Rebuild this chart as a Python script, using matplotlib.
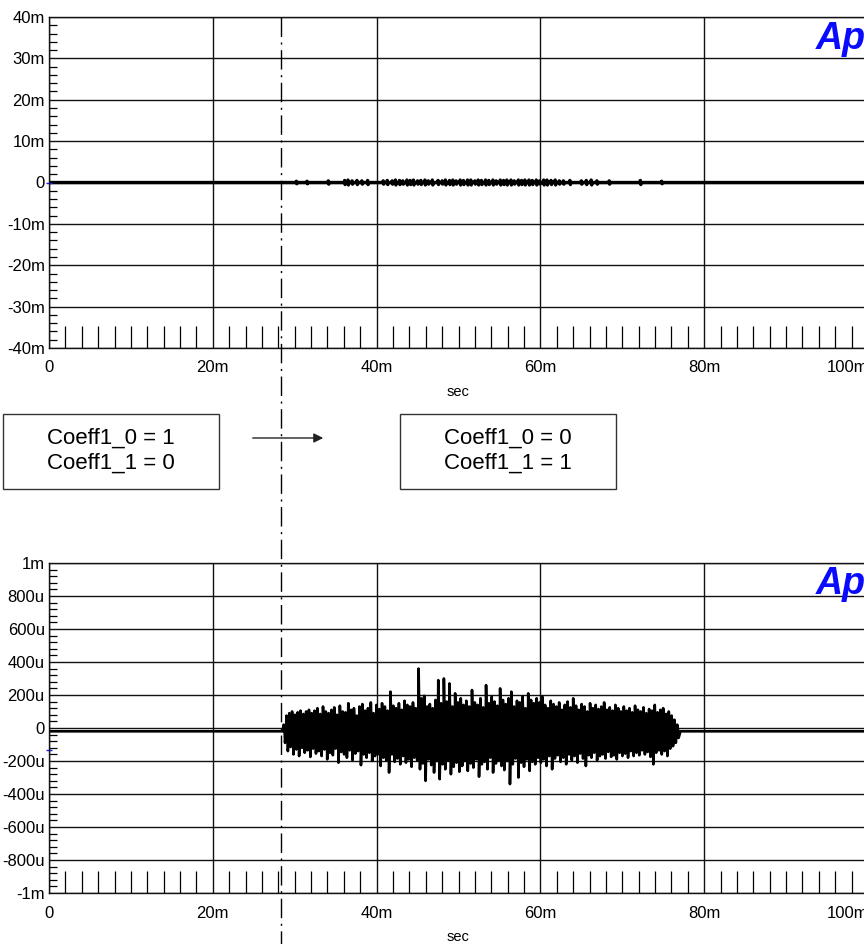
import matplotlib
matplotlib.use("Agg")
import matplotlib.pyplot as plt
from matplotlib.lines import Line2D
from matplotlib.patches import Rectangle, FancyArrowPatch
from matplotlib.ticker import MultipleLocator, FixedLocator

plt.rcParams['font.family'] = ['Liberation Sans', 'DejaVu Sans']

# ---- dados (tempo em ms, amplitude em mV / uV) ----
t_inicio = 28.6      # inicio do burst no grafico de baixo (ms)
t_fim = 77.0
t_troca = 28.3       # instante da troca de coeficientes (ms)
base_baixo = -20     # nivel DC do grafico de baixo (uV)

picos_sup = [40, 95, 110, 120, 100, 115, 125, 105, 120, 130, 110, 125, 140,
             105, 150, 120, 110, 130, 145, 100, 155, 120, 115, 170, 130, 140, 95, 150, 165, 125, 140, 175, 110, 160,
             135, 170, 150, 125, 240, 155, 140, 170, 130, 185, 160, 150, 175, 140,
             380, 200, 215, 150, 165, 140, 190, 310, 170, 320, 180, 290, 150, 230, 175,
             200, 160, 185, 150, 250, 175, 160, 200, 145, 280, 170, 210, 180, 155, 260, 190, 165, 200, 240, 150,
             185, 175, 210, 140, 230, 190, 170, 200,
             175, 210, 160, 140, 185, 165, 150, 175, 130, 160, 180, 145, 200, 155, 130, 165, 150, 120, 170, 140,
             160, 135, 150, 175, 130, 145, 125, 160, 140, 120,
             150, 125, 140, 115, 155, 130, 120, 145, 110, 135, 125, 160, 115, 130, 140, 105, 120, 95, 70, 40]

picos_inf = [-70, -120, -95, -140, -110, -150, -100, -130, -115, -155, -105, -135, -120,
             -150, -110, -170, -130, -145, -105, -190, -125, -140, -160, -115, -175, -135, -120, -205, -140, -160,
             -130, -180, -150, -140,
             -210, -160, -175, -250, -140, -185, -165, -200, -150, -190, -170, -215, -160, -175,
             -230, -195, -300, -170, -205, -250, -180, -290, -200, -230, -175, -260, -215, -190, -245,
             -210, -180, -240, -195, -220, -170, -275, -200, -185, -230, -160, -250, -195, -175, -210, -235, -180,
             -320, -200, -165, -280, -190, -215, -170, -240, -185, -200, -160,
             -190, -170, -210, -150, -230, -165, -145, -185, -160, -200, -140, -175, -150, -190, -135, -165, -210,
             -145, -160, -130, -175, -150, -140, -165, -125, -155, -145, -170, -130, -150,
             -135, -160, -120, -150, -130, -145, -115, -140, -125, -155, -200, -130, -115, -140, -120, -150, -105,
             -90, -70, -40]

# pequenos residuos no grafico de cima (ms, mV)
blip_t = [30.2, 31.5, 34.1, 36.1, 36.5, 37.0, 37.6, 38.2, 38.9,
          40.8, 41.3, 41.9, 42.3, 42.8, 43.2, 43.7, 44.1, 44.5, 45.0, 45.4, 45.9, 46.3, 46.8, 47.5, 48.0,
          48.4, 48.9, 49.3, 49.7, 50.2, 50.6, 51.1, 51.5, 52.0, 52.4, 52.8, 53.3, 53.7, 54.2, 54.6, 55.1,
          55.5, 55.9, 56.4, 56.8, 57.3, 57.7, 58.1, 58.6, 59.0, 59.5, 59.9, 60.4, 60.8, 61.3, 61.8, 62.3,
          62.8, 63.6, 65.0, 65.6, 66.2, 66.9, 68.4, 72.2, 74.8]
blip_a = [0.3, 0.3, 0.4, 0.5, 0.6, 0.4, 0.5, 0.4, 0.5,
          0.4, 0.5, 0.4, 0.6, 0.5, 0.4, 0.6, 0.5, 0.6, 0.4, 0.5, 0.6, 0.4, 0.6, 0.5, 0.4,
          0.6, 0.5, 0.6, 0.4, 0.6, 0.5, 0.6, 0.6, 0.4, 0.6, 0.5, 0.6, 0.5, 0.6, 0.4, 0.6,
          0.5, 0.6, 0.6, 0.4, 0.6, 0.5, 0.6, 0.6, 0.5, 0.6, 0.4, 0.6, 0.6, 0.5, 0.6, 0.4,
          0.4, 0.5, 0.4, 0.5, 0.6, 0.4, 0.4, 0.5, 0.3]

x_ticks = [0, 20, 40, 60, 80, 100]
x_labels = ["0", "20m", "40m", "60m", "80m", "100m"]
y1_ticks = [-40, -30, -20, -10, 0, 10, 20, 30, 40]
y1_labels = ["-40m", "-30m", "-20m", "-10m", "0", "10m", "20m", "30m", "40m"]
y2_ticks = [-1000, -800, -600, -400, -200, 0, 200, 400, 600, 800, 1000]
y2_labels = ["-1m", "-800u", "-600u", "-400u", "-200u", "0", "200u", "400u", "600u", "800u", "1m"]

W, H = 864, 944
fig = plt.figure(figsize=(W / 100, H / 100), dpi=100)


def px_ax(x0, y_top, x1, y_bot):
    return fig.add_axes([x0 / W, 1 - y_bot / H, (x1 - x0) / W, (y_bot - y_top) / H])


ax1 = px_ax(49, 17, 868, 348)
ax2 = px_ax(49, 563, 868, 893)


def estilo(ax, yticks, ylabels, ylim, ymenor):
    ax.set_xlim(0, 100)
    ax.set_ylim(*ylim)
    ax.xaxis.set_major_locator(FixedLocator(x_ticks))
    ax.set_xticklabels(x_labels)
    ax.get_xticklabels()[-1].set_horizontalalignment('right')
    ax.xaxis.set_minor_locator(MultipleLocator(2))
    ax.yaxis.set_major_locator(FixedLocator(yticks))
    ax.set_yticklabels(ylabels)
    ax.yaxis.set_minor_locator(MultipleLocator(ymenor))
    ax.tick_params(axis='both', which='major', length=0, labelsize=12, colors='black')
    ax.tick_params(axis='x', which='major', pad=9)
    ax.tick_params(axis='y', which='major', pad=3)
    ax.tick_params(axis='x', which='minor', direction='in', length=16, width=0.9, top=False)
    ax.tick_params(axis='y', which='minor', direction='in', length=6, width=0.9, right=False)
    ax.grid(True, which='major', color='#111111', linewidth=1.0)
    for s in ax.spines.values():
        s.set_linewidth(1.0)
        s.set_color('#111111')
    ax.set_xlabel("sec", fontsize=10.5, labelpad=7)
    ax.set_axisbelow(True)


estilo(ax1, y1_ticks, y1_labels, (-40, 40), 2)
estilo(ax2, y2_ticks, y2_labels, (-1000, 1000), 40)

# ---- grafico de cima ----
xs, ys = [0.0], [0.0]
for t, a in zip(blip_t, blip_a):
    xs += [t - 0.06, t, t + 0.06, t + 0.12]
    ys += [0.0, a, -a, 0.0]
xs.append(100.0)
ys.append(0.0)
ax1.plot(xs, ys, color='black', linewidth=2.4)

# ---- grafico de baixo ----
# cada ciclo: subida quase vertical ao pico e descida quase vertical ao vale
n = len(picos_sup)
passo = (t_fim - t_inicio) / n
xb, yb = [0.0, t_inicio - 0.1], [base_baixo, base_baixo]
for i in range(n):
    t0 = t_inicio + i * passo
    xb += [t0, t0 + 0.05, t0 + 0.5 * passo, t0 + 0.5 * passo + 0.05]
    yb += [base_baixo, picos_sup[i] + base_baixo, base_baixo, picos_inf[i] + base_baixo]
xb += [t_fim + 0.1, 100.0]
yb += [base_baixo, base_baixo]
ax2.plot(xb, yb, color='black', linewidth=1.9)

# marcadores azuis do canal
for ax, yv in ((ax1, 0), (ax2, -135)):
    ax.plot([0], [yv], marker='_', color='#1a1aff', markersize=5, clip_on=False)

# logo "Ap"
for ax in (ax1, ax2):
    ax.text(0.936, 0.935, "Ap", transform=ax.transAxes, color='#0a0aff', fontsize=27,
            fontweight='bold', fontstyle='italic', ha='left', va='center')

# linha traco-ponto no instante da troca
fig.canvas.draw()
x_fig, y_fig = fig.transFigure.inverted().transform(ax1.transData.transform((t_troca, 40)))
fig.add_artist(Line2D([x_fig, x_fig], [y_fig, 0], transform=fig.transFigure, color='black',
                      linewidth=1.0, linestyle=(0, (14, 4, 1.5, 4))))

# caixas com os coeficientes
caixas = [(3, "Coeff1_0 = 1\nCoeff1_1 = 0"), (400, "Coeff1_0 = 0\nCoeff1_1 = 1")]
for x0, txt in caixas:
    fig.add_artist(Rectangle((x0 / W, 1 - 489 / H), 216 / W, 75 / H, transform=fig.transFigure,
                             fill=False, edgecolor='#333333', linewidth=1.0))
    fig.text((x0 + 108) / W, 1 - 451 / H, txt, ha='center', va='center', fontsize=16,
             linespacing=1.25)

fig.add_artist(FancyArrowPatch((250 / W, 1 - 438 / H), (326 / W, 1 - 438 / H),
                               transform=fig.transFigure, arrowstyle='-|>',
                               mutation_scale=14, color='#222222', linewidth=1.0))

fig.savefig("out.png", dpi=100)
